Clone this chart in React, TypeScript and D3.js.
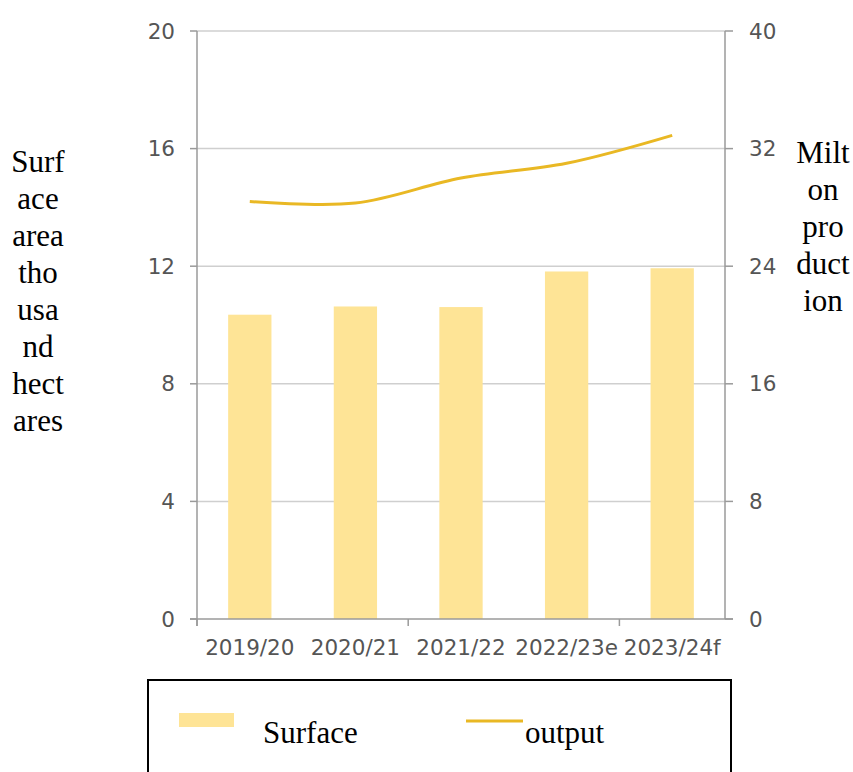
import React from "react";
import * as d3 from "d3";

const seasons = ["2019/20", "2020/21", "2021/22", "2022/23e", "2023/24f"];
const surface = [10.35, 10.63, 10.61, 11.82, 11.93];
const output = [28.4, 28.3, 30.0, 31.0, 32.9];
const leftTicks = [0, 4, 8, 12, 16, 20];
const rightTicks = [0, 8, 16, 24, 32, 40];
const leftTitle = ["Surf", "ace", "area", "tho", "usa", "nd", "hect", "ares"];
const rightTitle = ["Milt", "on", "pro", "duct", "ion"];

const W = 853;
const H = 772;

const App: React.FC = () => {
  const x = d3.scaleBand<string>().domain(seasons).range([197, 725]);
  const yL = d3.scaleLinear().domain([0, 20]).range([619, 31]);
  const yR = d3.scaleLinear().domain([0, 40]).range([619, 31]);
  const barW = x.bandwidth() * 0.41;
  const cx = (s: string) => (x(s) as number) + x.bandwidth() / 2;

  const line = d3
    .line<number>()
    .x((_, i) => cx(seasons[i]))
    .y((d) => yR(d))
    .curve(d3.curveCatmullRom.alpha(0.5));

  const axisColor = "#9a9a9a";
  const gridColor = "#cfcfcf";
  const tickFont = "'DejaVu Sans', Verdana, sans-serif";
  const serif = "'Liberation Serif', 'Times New Roman', serif";
  const tickSize = 21.5;

  // x ticks every second category boundary
  const xTicks = [0, 2, 4].map((i) => x(seasons[i]) as number);

  return (
    <div style={{ position: "absolute", left: 0, top: 0 }}>
      <svg width={W} height={H} style={{ display: "block", background: "#fff" }}>
        {/* gridlines */}
        {leftTicks.slice(1).map((t) => (
          <line key={t} x1={197} x2={725} y1={yL(t)} y2={yL(t)} stroke={gridColor} strokeWidth={1.5} />
        ))}

        {/* bars */}
        {seasons.map((s, i) => (
          <rect
            key={s}
            x={cx(s) - barW / 2}
            y={yL(surface[i])}
            width={barW}
            height={yL(0) - yL(surface[i])}
            fill="#fee496"
          />
        ))}

        {/* line */}
        <path d={line(output) || ""} fill="none" stroke="#e9b824" strokeWidth={3} />

        {/* axes */}
        <line x1={197} x2={197} y1={31} y2={626} stroke={axisColor} strokeWidth={1.5} />
        <line x1={725} x2={725} y1={31} y2={619} stroke={axisColor} strokeWidth={1.5} />
        <line x1={190} x2={733} y1={619} y2={619} stroke={axisColor} strokeWidth={1.5} />
        {xTicks.map((tx, i) => (
          <line key={i} x1={tx} x2={tx} y1={619} y2={626} stroke={axisColor} strokeWidth={1.5} />
        ))}
        {leftTicks.map((t) => (
          <g key={t}>
            <line x1={190} x2={197} y1={yL(t)} y2={yL(t)} stroke={axisColor} strokeWidth={1.5} />
            <text
              x={175}
              y={yL(t)}
              dy="0.35em"
              textAnchor="end"
              fontFamily={tickFont}
              fontSize={tickSize}
              fill="#555"
            >
              {t}
            </text>
          </g>
        ))}
        {rightTicks.map((t) => (
          <g key={t}>
            <line x1={725} x2={733} y1={yR(t)} y2={yR(t)} stroke={axisColor} strokeWidth={1.5} />
            <text
              x={749}
              y={yR(t)}
              dy="0.35em"
              textAnchor="start"
              fontFamily={tickFont}
              fontSize={tickSize}
              fill="#555"
            >
              {t}
            </text>
          </g>
        ))}
        {seasons.map((s) => (
          <text
            key={s}
            x={cx(s)}
            y={655}
            textAnchor="middle"
            fontFamily={tickFont}
            fontSize={tickSize}
            fill="#555"
          >
            {s}
          </text>
        ))}

        {/* axis titles */}
        {leftTitle.map((w, i) => (
          <text key={i} x={38} y={172 + i * 37} textAnchor="middle" fontFamily={serif} fontSize={31} fill="#000">
            {w}
          </text>
        ))}
        {rightTitle.map((w, i) => (
          <text key={i} x={823} y={163 + i * 37} textAnchor="middle" fontFamily={serif} fontSize={31} fill="#000">
            {w}
          </text>
        ))}

        {/* legend */}
        <rect x={148} y={680} width={583} height={100} fill="none" stroke="#000" strokeWidth={2} />
        <rect x={179} y={713} width={55} height={14} fill="#fee496" />
        <text x={263} y={743} fontFamily={serif} fontSize={31} fill="#000">
          Surface
        </text>
        <line x1={466} x2={523} y1={721} y2={721} stroke="#e9b824" strokeWidth={3} />
        <text x={525} y={743} fontFamily={serif} fontSize={31} fill="#000">
          output
        </text>
      </svg>
    </div>
  );
};

export default App;
